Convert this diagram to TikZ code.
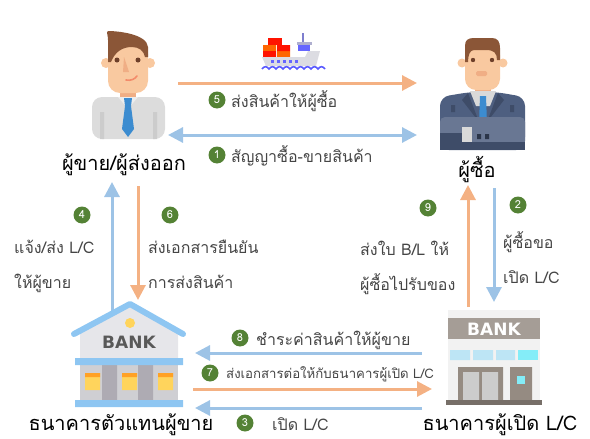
\documentclass[tikz,border=0pt]{standalone}
\usepackage{fontspec}
\newfontfamily\thaifont[Script=Thai]{Loma}
\newfontfamily\signfont{DejaVu Sans}
\usetikzlibrary{arrows.meta}
\definecolor{goodsorange}{HTML}{F4B183}
\definecolor{docblue}{HTML}{9DC3E6}
\definecolor{stepgreen}{HTML}{548235}
\definecolor{textgray}{HTML}{454545}
\definecolor{skin}{HTML}{F9C9A0}
\definecolor{skindark}{HTML}{F0AE85}
\definecolor{hair}{HTML}{8B5637}
\definecolor{eye}{HTML}{6E3F29}
\definecolor{shirt}{HTML}{DCDCDC}
\definecolor{tie}{HTML}{3C8CD0}
\definecolor{suit}{HTML}{4E5F80}
\definecolor{suitdark}{HTML}{3E4C68}
\definecolor{roofblue}{HTML}{8EC6F2}
\definecolor{wall}{HTML}{E6E6EA}
\definecolor{pillar}{HTML}{AEABB3}
\definecolor{lamp}{HTML}{FFD45C}
\definecolor{signgray}{HTML}{A59D96}
\definecolor{doorgray}{HTML}{958B82}
\definecolor{glass}{HTML}{BDE5F5}

\begin{document}
\begin{tikzpicture}
[x=1pt,y=-1pt,
flow/.style={line width=3pt, -{Triangle[length=15pt,width=15pt]}},
goods/.style={flow, goodsorange},
docs/.style={flow, docblue},
num/.style={circle, fill=stepgreen, text=white, minimum size=17pt, inner sep=0pt, font={\thaifont\fontsize{11}{11}\selectfont}},
lbl/.style={anchor=base west, inner sep=0pt, text=textgray, font={\thaifont\fontsize{16}{16}\selectfont}},
party/.style={anchor=base, inner sep=0pt, text=black, font={\thaifont\fontsize{20}{20}\selectfont}},
sign/.style={inner sep=0pt, font={\signfont\bfseries\fontsize{17}{17}\selectfont}}]
\useasboundingbox (0,0) rectangle (590,439);

% ---- seller ----
\fill[skin] (106,63) circle (5) (150,63) circle (5);
\fill[skindark] (120,84) rectangle (136,100);
\fill[shirt, rounded corners=10pt] (92,139) -- (92,97) -- (165,97) -- (165,139) -- cycle;
\fill[black!20] (100,112) rectangle (104,139) (153,112) rectangle (157,139);
\fill[black!7] (118,97) -- (128,109) -- (138,97) -- cycle;
\fill[tie] (124,98) -- (132,98) -- (131,106) -- (134,129) -- (128,137) -- (122,129) -- (125,106) -- cycle;
\fill[skin, rounded corners=12pt] (108,42) rectangle (148,93);
\fill[hair] (108,62) -- (108,40) .. controls (108,35) and (106,32) .. (108,31)
  .. controls (118,31) and (147,34) .. (148,47) -- (148,57) -- (145,57)
  .. controls (144,51) and (139,47) .. (132,47) .. controls (122,47) and (115,52) .. (111,62) -- cycle;
\fill[eye] (117,60) circle (2.5) (138,60) circle (2.5);
\fill[skindark] (124,57) -- (129,72) -- (123,72) -- cycle;
\draw[skindark!80!red, line width=1.6pt, line cap=round] (126,80) .. controls (131,81) and (135,79) .. (137,76);

% ---- buyer ----
\fill[skin] (462,63) circle (4.5) (503,63) circle (4.5);
\fill[skindark] (475,84) rectangle (491,96);
\fill[suit, rounded corners=9pt] (440,150) -- (440,97) -- (470,92) -- (496,92) -- (525,97) -- (525,150) -- cycle;
\fill[black!15] (470,91) -- (496,91) -- (490,106) -- (476,106) -- cycle;
\fill[suitdark] (468,93) -- (479,122) -- (462,100) -- cycle (498,93) -- (487,122) -- (504,100) -- cycle;
\fill[tie] (480,96) -- (486,96) -- (487,124) -- (483,130) -- (479,124) -- cycle;
\fill[suitdark] (451,105) rectangle (455,112) (510,105) rectangle (514,112);
\fill[suit!85!white, rounded corners=5pt] (440,117) rectangle (525,142);
\fill[suitdark] (440,133) rectangle (525,150);
\fill[black!15] (462,127) rectangle (472,142);
\fill[suit!85!white] (472,127) rectangle (525,142);
\fill[suitdark!70!black] (477,134) rectangle (481,139) (485,134) rectangle (489,139);
\fill[skin, rounded corners=11pt] (465,44) rectangle (500,90);
\fill[hair] (465,62) -- (465,46) .. controls (465,40) and (468,38) .. (474,38) -- (492,38)
  .. controls (498,38) and (500,42) .. (500,48) -- (500,60) -- (497,60)
  .. controls (497,53) and (494,50) .. (486,50) -- (474,50) .. controls (470,50) and (468,55) .. (468,62) -- cycle;
\fill[eye] (473,60) circle (2.2) (492,60) circle (2.2);
\fill[skindark, rounded corners=1.5pt] (476,71) rectangle (487,76);

% ---- ship ----
\fill[red!85!orange] (268,38) rectangle (282,45);
\fill[orange!80!red] (263,45) rectangle (276,51) (277,51) rectangle (290,57);
\fill[red!85!orange] (277,45) rectangle (290,51) (263,51) rectangle (276,57);
\fill[blue!45!gray!70] (302,33) rectangle (304,42);
\fill[blue!25!gray!50] (297,42) rectangle (312,45);
\fill[blue!60!white] (298,45) rectangle (310,51);
\fill[blue!10!gray!25] (262,57) -- (305,57) -- (308,51) -- (320,51) -- (316,66) -- (266,66) -- cycle;
\foreach \px in {271,277,283,289,295}
  \fill[blue!60!white] (\px,60) rectangle ++(3,3);
\draw[blue!65!white, line width=1.6pt] (262,69) \foreach \wx in {262,269,...,318} { .. controls (\wx+2,66) and (\wx+5,66) .. (\wx+7,69) };

% ---- seller bank ----
\fill[wall] (80,333) -- (130,306) -- (178,333) -- (178,358) -- (80,358) -- cycle;
\fill[lamp] (130,323) circle (5);
\node[sign, text=black!65] (sbanksign) at (129,342) {BANK};
\fill[wall!90!black] (80,365) rectangle (178,400);
\fill[lamp] (85,373) rectangle (100,390) (122,373) rectangle (137,390) (158,373) rectangle (173,390);
\fill[orange!60!lamp] (85,373) rectangle (100,377) (122,373) rectangle (137,377) (158,373) rectangle (173,377);
\fill[pillar] (102,365) rectangle (117,400) (138,365) rectangle (153,400);
\fill[roofblue] (75,358) rectangle (183,365) (75,400) rectangle (183,407);

% ---- opening bank ----
\fill[black!5] (448,310) rectangle (540,400);
\fill[signgray] (448,318) rectangle (540,339);
\node[sign, text=white] (bbanksign) at (494,329) {BANK};
\fill[glass] (450,350) rectangle (470,360) (473,350) rectangle (493,360) (496,350) rectangle (515,360);
\fill[glass!70!cyan] (518,350) rectangle (538,360);
\fill[doorgray] (458,367) rectangle (503,400) (510,367) rectangle (532,400);
\fill[black!20] (463,372) rectangle (479,400) (482,372) rectangle (498,400);
\fill[glass!70!cyan] (517,376) rectangle (525,384);
\fill[doorgray!80!black] (446,400) rectangle (542,405);

% ---- party names ----
\node[party] (seller) at (124,170) {ผู้ขาย/ผู้ส่งออก};
\node[party] (buyer) at (477,177) {ผู้ซื้อ};
\node[party] (sbank) at (121,430) {ธนาคารตัวแทนผู้ขาย};
\node[party] (bbank) at (500,430) {ธนาคารผู้เปิด L/C};

% ---- arrow ends ----
\coordinate (g5a) at (178,83);  \coordinate (g5b) at (417,83);
\coordinate (d1a) at (168,135); \coordinate (d1b) at (417,135);
\coordinate (d4a) at (112,315); \coordinate (d4b) at (112,182);
\coordinate (g6a) at (138,186); \coordinate (g6b) at (138,300);
\coordinate (g9a) at (468,307); \coordinate (g9b) at (468,185);
\coordinate (d2a) at (494,188); \coordinate (d2b) at (494,302);
\coordinate (d8a) at (422,353); \coordinate (d8b) at (195,353);
\coordinate (g7a) at (193,389); \coordinate (g7b) at (432,389);
\coordinate (d3a) at (422,408); \coordinate (d3b) at (195,408);

\path [goods] (g5a) edge (g5b);
\path [docs, {Triangle[length=15pt,width=15pt]}-{Triangle[length=15pt,width=15pt]}] (d1a) edge (d1b);
\path [docs] (d4a) edge (d4b);
\path [goods] (g6a) edge (g6b);
\path [goods] (g9a) edge (g9b);
\path [docs] (d2a) edge (d2b);
\path [docs] (d8a) edge (d8b);
\path [goods] (g7a) edge (g7b);
\path [docs] (d3a) edge (d3b);

% roof goes over the end of arrow 4
\draw[roofblue, line width=6pt, line cap=round, line join=round] (74,334) -- (130,304) -- (183,334);

% ---- steps ----
\node[num] (n5) at (217,100) {5};
\node[lbl] (t5) at (231,107) {ส่งสินค้าให้ผู้ซื้อ};
\node[num] (n1) at (217,155) {1};
\node[lbl] (t1) at (231,162) {สัญญาซื้อ-ขายสินค้า};
\node[num] (n4) at (82,215) {4};
\node[lbl] (t4a) at (14,253) {แจ้ง/ส่ง L/C};
\node[lbl] (t4b) at (14,288) {ให้ผู้ขาย};
\node[num] (n6) at (170,215) {6};
\node[lbl] (t6a) at (148,253) {ส่งเอกสารยืนยัน};
\node[lbl] (t6b) at (148,288) {การส่งสินค้า};
\node[num] (n9) at (428,208) {9};
\node[lbl] (t9a) at (360,255) {ส่งใบ B/L ให้};
\node[lbl] (t9b) at (360,290) {ผู้ซื้อไปรับของ};
\node[num] (n2) at (518,205) {2};
\node[lbl] (t2a) at (503,248) {ผู้ซื้อขอ};
\node[lbl] (t2b) at (503,283) {เปิด L/C};
\node[num] (n8) at (240,338) {8};
\node[lbl] (t8) at (256,345) {ชำระค่าสินค้าให้ผู้ขาย};
\node[num] (n7) at (210,373) {7};
\node[lbl, font={\thaifont\fontsize{13.2}{13.2}\selectfont}] (t7) at (226,378) {ส่งเอกสารต่อให้กับธนาคารผู้เปิด L/C};
\node[num] (n3) at (245,423) {3};
\node[lbl] (t3) at (272,430) {เปิด L/C};
\end{tikzpicture}
\end{document}
